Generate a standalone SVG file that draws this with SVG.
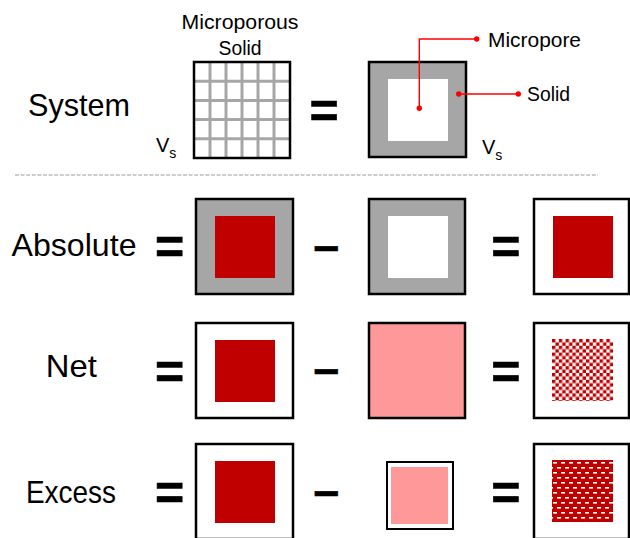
<svg xmlns="http://www.w3.org/2000/svg" width="630" height="538" viewBox="0 0 630 538">
<defs>
<style>
.lbl{font-family:"Liberation Sans",Arial,sans-serif;font-size:32px;fill:#000;text-anchor:middle}
.sm{font-family:"Liberation Sans",Arial,sans-serif;font-size:20px;fill:#000}
.op{font-family:"Liberation Sans",Arial,sans-serif;font-size:50px;font-weight:bold;fill:#000;stroke:#000;stroke-width:0.6;text-anchor:middle}
.mn{font-family:"Liberation Sans",Arial,sans-serif;font-size:46px;font-weight:bold;fill:#000;stroke:#000;stroke-width:0.6;text-anchor:middle}
.box{stroke:#000;stroke-width:2.5}
.gray{fill:#A6A6A6}
.white{fill:#FFFFFF}
.red{fill:#C00000}
.pink{fill:#FF9999}
.lead{stroke:#FF0000;stroke-width:1.4;fill:none}
.dot{fill:#FF0000}
.grid{stroke:#A6A6A6;stroke-width:3}
</style>
<pattern id="checker" patternUnits="userSpaceOnUse" x="552" y="339" width="6.8" height="6.8">
<rect width="6.8" height="6.8" fill="#FFFFFF"/>
<rect x="0" y="0" width="3.4" height="3.4" fill="#C00000"/>
<rect x="3.4" y="3.4" width="3.4" height="3.4" fill="#C00000"/>
</pattern>
<pattern id="bricks" patternUnits="userSpaceOnUse" x="552" y="460" width="8" height="10">
<rect width="8" height="10" fill="#C00000"/>
<rect x="1" y="2" width="4" height="1.6" fill="#FFFFFF"/>
<rect x="5" y="7" width="3" height="1.6" fill="#FFFFFF"/>
<rect x="0" y="7" width="1" height="1.6" fill="#FFFFFF"/>
</pattern>
</defs>
<rect width="630" height="538" fill="#FFFFFF"/>

<g id="system-row">
<text class="lbl" x="79" y="116" textLength="102" lengthAdjust="spacingAndGlyphs">System</text>
<g id="microporous-solid">
<text class="sm" x="240" y="29" font-size="21" text-anchor="middle" textLength="117" lengthAdjust="spacingAndGlyphs">Microporous</text>
<text class="sm" x="240" y="55" font-size="21" text-anchor="middle" textLength="43" lengthAdjust="spacingAndGlyphs">Solid</text>
<rect x="194" y="62" width="96" height="96" fill="#FFFFFF"/>
<g class="grid">
<line x1="210" y1="62" x2="210" y2="158"/>
<line x1="226" y1="62" x2="226" y2="158"/>
<line x1="242" y1="62" x2="242" y2="158"/>
<line x1="258" y1="62" x2="258" y2="158"/>
<line x1="274" y1="62" x2="274" y2="158"/>
<line x1="194" y1="81.2" x2="290" y2="81.2"/>
<line x1="194" y1="100.4" x2="290" y2="100.4"/>
<line x1="194" y1="119.6" x2="290" y2="119.6"/>
<line x1="194" y1="138.8" x2="290" y2="138.8"/>
</g>
<rect class="box" x="194" y="62" width="96" height="96" fill="none"/>
<text class="sm" x="156" y="152" font-size="21">V<tspan font-size="14" dy="6">s</tspan></text>
</g>
<text class="op" x="324.2" y="128">=</text>
<g id="model-system">
<rect class="box gray" x="369" y="62" width="97" height="95"/>
<rect class="white" x="388" y="79" width="60" height="62"/>
<text class="sm" x="482" y="154" font-size="21">V<tspan font-size="14" dy="6">s</tspan></text>
</g>
<text class="sm" x="488" y="47" textLength="93" lengthAdjust="spacingAndGlyphs">Micropore</text>
<text class="sm" x="527" y="101" textLength="43" lengthAdjust="spacingAndGlyphs">Solid</text>
</g>

<g id="connectors">
<polyline class="lead" points="419.3,108.3 419.3,39 476.7,39"/>
<circle class="dot" cx="419.3" cy="108.3" r="2.7"/>
<circle class="dot" cx="476.7" cy="39" r="2.7"/>
<line class="lead" x1="458.7" y1="94" x2="518.3" y2="94"/>
<circle class="dot" cx="458.7" cy="94" r="2.7"/>
<circle class="dot" cx="518.3" cy="94" r="2.7"/>
</g>

<line id="separator" x1="15" y1="175" x2="598" y2="175" stroke="#9A9A9A" stroke-width="1" stroke-dasharray="4 1.6"/>

<g id="absolute-row">
<text class="lbl" x="74" y="256" textLength="125" lengthAdjust="spacingAndGlyphs">Absolute</text>
<text class="op" x="169.5" y="264">=</text>
<g id="abs-total">
<rect class="box gray" x="196" y="199" width="97" height="95"/>
<rect class="red" x="215" y="216" width="60" height="62"/>
</g>
<text class="mn" x="326.2" y="261">–</text>
<g id="abs-solid">
<rect class="box gray" x="369" y="199" width="96" height="95"/>
<rect class="white" x="388" y="216" width="60" height="62"/>
</g>
<text class="op" x="505.8" y="264">=</text>
<g id="abs-result">
<rect class="box white" x="534" y="199" width="95" height="95"/>
<rect class="red" x="553" y="216" width="60" height="62"/>
</g>
</g>

<g id="net-row">
<text class="lbl" x="71.3" y="377" textLength="51" lengthAdjust="spacingAndGlyphs">Net</text>
<text class="op" x="169.5" y="389">=</text>
<g id="net-total">
<rect class="box white" x="196" y="323" width="97" height="95"/>
<rect class="red" x="215" y="340" width="60" height="62"/>
</g>
<text class="mn" x="326.2" y="384">–</text>
<g id="net-container">
<rect class="box pink" x="369" y="323" width="96" height="95"/>
</g>
<text class="op" x="505.8" y="389">=</text>
<g id="net-result">
<rect class="box white" x="534" y="323" width="95" height="95"/>
<rect x="552" y="339" width="61" height="62" fill="url(#checker)"/>
</g>
</g>

<g id="excess-row">
<text class="lbl" x="71" y="503" textLength="90" lengthAdjust="spacingAndGlyphs">Excess</text>
<text class="op" x="169.5" y="510">=</text>
<g id="excess-total">
<rect class="box white" x="196" y="444" width="97" height="95"/>
<rect class="red" x="215" y="461" width="60" height="62"/>
</g>
<text class="mn" x="326.2" y="506">–</text>
<g id="excess-bulk">
<rect x="387" y="462" width="66" height="67" fill="#FFFFFF" stroke="#000" stroke-width="2"/>
<rect class="pink" x="391" y="467" width="57" height="57"/>
</g>
<text class="op" x="505.8" y="510">=</text>
<g id="excess-result">
<rect class="box white" x="534" y="444" width="95" height="95"/>
<rect x="552" y="460" width="61" height="62" fill="url(#bricks)"/>
</g>
</g>
</svg>
